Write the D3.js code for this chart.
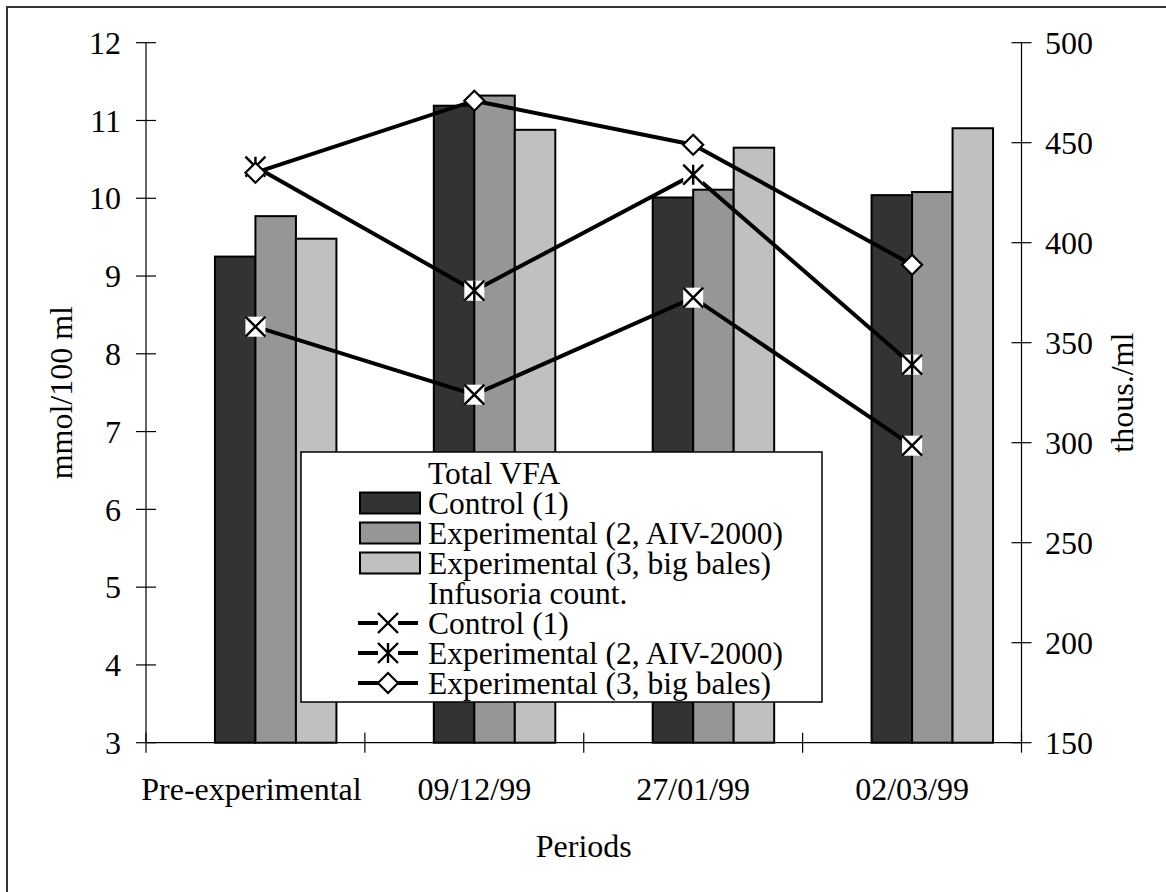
<!DOCTYPE html>
<html lang="en">
<head>
    <meta charset="UTF-8">
    <title>Total VFA and infusoria count</title>
    <script src="https://d3js.org/d3.v7.min.js"></script>
    <style>
        body { margin: 0; background: #fff; }
        text { font-family: "Liberation Serif", "Times New Roman", serif; fill: #000; }
    </style>
</head>
<body>
    <svg id="graph" width="1166" height="892"></svg>

    <script>
        // values
        const categories = ["Pre-experimental", "09/12/99", "27/01/99", "02/03/99"];
        const seriesNames = ["Control (1)", "Experimental (2, AIV-2000)", "Experimental (3, big bales)"];
        const vfaControl = [9.25, 11.19, 10.01, 10.04];
        const vfaAiv = [9.77, 11.32, 10.11, 10.08];
        const vfaBales = [9.48, 10.88, 10.65, 10.90];
        const infControl = [358, 324, 372.5, 298.5];
        const infAiv = [438, 376, 434, 339];
        const infBales = [435, 471, 449, 389];
        const leftTicks = [3, 4, 5, 6, 7, 8, 9, 10, 11, 12];
        const rightTicks = [150, 200, 250, 300, 350, 400, 450, 500];

        const barColors = ["#333333", "#969696", "#c0c0c0"];
        const markers = ["x", "asterisk", "diamond"];
        const fontSize = 32;
        const legendFont = 31.5;

        const svg = d3.select("#graph");
        const plot = { left: 146, right: 1021.5, top: 42.7, bottom: 742.7 };

        // outer frame (only top / left edges are inside the picture)
        svg.append("rect")
            .attr("x", 7).attr("y", 7)
            .attr("width", 1200).attr("height", 1000)
            .attr("fill", "none").attr("stroke", "#333").attr("stroke-width", 2);

        const x = d3.scaleBand().domain(categories).range([plot.left, plot.right]).padding(0);
        const yL = d3.scaleLinear().domain([3, 12]).range([plot.bottom, plot.top]);
        const yR = d3.scaleLinear().domain([150, 500]).range([plot.bottom, plot.top]);
        const bw = x.bandwidth() * 0.185;
        const xs = d3.scaleBand().domain(d3.range(3)).range([-bw, 2 * bw]);
        const cx = c => x(c) + x.bandwidth() / 2;

        // bars
        const vfa = [vfaControl, vfaAiv, vfaBales];
        vfa.forEach((vals, s) => {
            svg.append("g").selectAll("rect")
                .data(vals)
                .join("rect")
                .attr("x", (d, i) => cx(categories[i]) + xs(s))
                .attr("y", d => yL(d))
                .attr("width", xs.bandwidth())
                .attr("height", d => yL(3) - yL(d))
                .attr("fill", barColors[s])
                .attr("stroke", "#000")
                .attr("stroke-width", 2);
        });

        // axes
        const axisG = svg.append("g").attr("stroke", "#000").attr("stroke-width", 1.2);
        axisG.append("line").attr("x1", plot.left).attr("x2", plot.left).attr("y1", plot.top).attr("y2", plot.bottom);
        axisG.append("line").attr("x1", plot.right).attr("x2", plot.right).attr("y1", plot.top).attr("y2", plot.bottom);
        axisG.append("line").attr("x1", plot.left).attr("x2", plot.right).attr("y1", plot.bottom).attr("y2", plot.bottom);

        axisG.selectAll(".tl").data(leftTicks).join("line")
            .attr("x1", plot.left - 10).attr("x2", plot.left + 10)
            .attr("y1", d => yL(d)).attr("y2", d => yL(d));
        axisG.selectAll(".tr").data(rightTicks).join("line")
            .attr("x1", plot.right - 10).attr("x2", plot.right + 10)
            .attr("y1", d => yR(d)).attr("y2", d => yR(d));
        const catEdges = d3.range(categories.length + 1).map(i => plot.left + i * x.bandwidth());
        axisG.selectAll(".tc").data(catEdges).join("line")
            .attr("x1", d => d).attr("x2", d => d)
            .attr("y1", plot.bottom - 10).attr("y2", plot.bottom + 10);

        svg.append("g").selectAll("text").data(leftTicks).join("text")
            .attr("x", 121).attr("y", d => yL(d))
            .attr("dy", "0.35em").attr("text-anchor", "end")
            .style("font-size", fontSize + "px")
            .text(d => d);
        svg.append("g").selectAll("text").data(rightTicks).join("text")
            .attr("x", 1045).attr("y", d => yR(d))
            .attr("dy", "0.35em").attr("text-anchor", "start")
            .style("font-size", fontSize + "px")
            .text(d => d);
        svg.append("g").selectAll("text").data(categories).join("text")
            .attr("x", d => cx(d) - (d === categories[0] ? 4 : 0)).attr("y", 800)
            .attr("text-anchor", "middle")
            .style("font-size", fontSize + "px")
            .text(d => d);

        svg.append("text")
            .attr("transform", "translate(72," + (plot.top + plot.bottom) / 2 + ") rotate(-90)")
            .attr("text-anchor", "middle")
            .style("font-size", fontSize + "px")
            .text("mmol/100 ml");
        svg.append("text")
            .attr("transform", "translate(1133," + (plot.top + plot.bottom) / 2 + ") rotate(-90)")
            .attr("text-anchor", "middle")
            .style("font-size", fontSize + "px")
            .text("thous./ml");
        svg.append("text")
            .attr("x", (plot.left + plot.right) / 2).attr("y", 857)
            .attr("text-anchor", "middle")
            .style("font-size", fontSize + "px")
            .text("Periods");

        // marker drawing
        function drawMarker(g, type, mx, my) {
            const h = 10;
            if (type === "diamond") {
                g.append("path")
                    .attr("d", `M${mx},${my - h}L${mx + h},${my}L${mx},${my + h}L${mx - h},${my}Z`)
                    .attr("fill", "#fff").attr("stroke", "#000").attr("stroke-width", 2.2);
                return;
            }
            g.append("rect")
                .attr("x", mx - h).attr("y", my - h).attr("width", 2 * h).attr("height", 2 * h)
                .attr("fill", "#fff");
            let d = `M${mx - h},${my - h}L${mx + h},${my + h}M${mx + h},${my - h}L${mx - h},${my + h}`;
            if (type === "asterisk") d += `M${mx},${my - h}L${mx},${my + h}`;
            g.append("path").attr("d", d).attr("stroke", "#000").attr("stroke-width", 2.4).attr("fill", "none");
        }

        // lines
        const inf = [infControl, infAiv, infBales];
        const line = d3.line().x((d, i) => cx(categories[i])).y(d => yR(d));
        inf.forEach((vals, s) => {
            const g = svg.append("g");
            g.append("path")
                .datum(vals)
                .attr("d", line)
                .attr("fill", "none")
                .attr("stroke", "#000")
                .attr("stroke-width", 4);
            vals.forEach((v, i) => drawMarker(g, markers[s], cx(categories[i]), yR(v)));
        });

        // legend
        const lg = svg.append("g");
        lg.append("rect")
            .attr("x", 301).attr("y", 452).attr("width", 521).attr("height", 250)
            .attr("fill", "#fff").attr("stroke", "#000").attr("stroke-width", 1.5);
        const rowY = d3.scaleLinear().domain([0, 7]).range([473, 683]);
        const legendRows = ["Total VFA", ...seriesNames, "Infusoria count.", ...seriesNames];
        legendRows.forEach((t, r) => {
            const yy = rowY(r);
            lg.append("text")
                .attr("x", 428).attr("y", yy).attr("dy", "0.35em")
                .style("font-size", legendFont + "px")
                .text(t);
            if (r >= 1 && r <= 3) {
                lg.append("rect")
                    .attr("x", 360).attr("y", yy - 10.5).attr("width", 60).attr("height", 21)
                    .attr("fill", barColors[r - 1]).attr("stroke", "#000").attr("stroke-width", 2);
            } else if (r >= 5) {
                lg.append("line")
                    .attr("x1", 358).attr("x2", 418).attr("y1", yy).attr("y2", yy)
                    .attr("stroke", "#000").attr("stroke-width", 4);
                drawMarker(lg, markers[r - 5], 388, yy);
            }
        });
    </script>
</body>
</html>
